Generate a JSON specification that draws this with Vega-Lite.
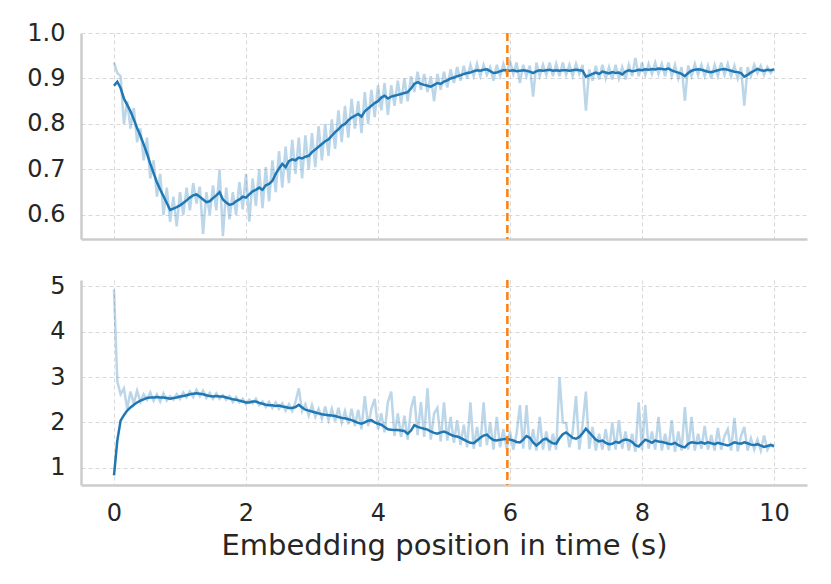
{
  "$schema": "https://vega.github.io/schema/vega-lite/v6.json",
  "background": "white",
  "padding": {"left": 26, "top": 21, "right": 24, "bottom": 10},
  "config": {
    "view": {"stroke": null},
    "font": "DejaVu Sans",
    "concat": {"spacing": 32},
    "axis": {
      "grid": true,
      "gridColor": "#d9d9d9",
      "gridDash": [4, 3],
      "gridWidth": 1,
      "domainColor": "#cccccc",
      "domainWidth": 2.5,
      "ticks": false,
      "labelFont": "DejaVu Sans",
      "labelFontSize": 24,
      "labelColor": "#262626",
      "labelPadding": 16,
      "titleFont": "DejaVu Sans",
      "titleFontSize": 29,
      "titleFontWeight": "normal",
      "titleColor": "#262626",
      "titlePadding": 6
    }
  },
  "datasets": {
    "marker": [{"t": 5.96}],
    "curves": [
      {"t": 0.00, "r1": 0.935, "s1": 0.884, "r2": 4.93, "s2": 0.83},
      {"t": 0.05, "r1": 0.912, "s1": 0.893, "r2": 2.90, "s2": 1.60},
      {"t": 0.10, "r1": 0.905, "s1": 0.879, "r2": 2.62, "s2": 2.04},
      {"t": 0.15, "r1": 0.800, "s1": 0.856, "r2": 2.75, "s2": 2.16},
      {"t": 0.20, "r1": 0.850, "s1": 0.842, "r2": 2.30, "s2": 2.26},
      {"t": 0.25, "r1": 0.790, "s1": 0.828, "r2": 2.68, "s2": 2.33},
      {"t": 0.30, "r1": 0.835, "s1": 0.810, "r2": 2.42, "s2": 2.39},
      {"t": 0.35, "r1": 0.760, "s1": 0.791, "r2": 2.70, "s2": 2.44},
      {"t": 0.40, "r1": 0.790, "s1": 0.774, "r2": 2.45, "s2": 2.48},
      {"t": 0.45, "r1": 0.720, "s1": 0.755, "r2": 2.62, "s2": 2.51},
      {"t": 0.50, "r1": 0.770, "s1": 0.735, "r2": 2.50, "s2": 2.54},
      {"t": 0.55, "r1": 0.680, "s1": 0.712, "r2": 2.66, "s2": 2.55},
      {"t": 0.60, "r1": 0.720, "s1": 0.692, "r2": 2.48, "s2": 2.55},
      {"t": 0.65, "r1": 0.640, "s1": 0.672, "r2": 2.62, "s2": 2.56},
      {"t": 0.70, "r1": 0.690, "s1": 0.656, "r2": 2.46, "s2": 2.55},
      {"t": 0.75, "r1": 0.600, "s1": 0.641, "r2": 2.64, "s2": 2.55},
      {"t": 0.80, "r1": 0.660, "s1": 0.626, "r2": 2.48, "s2": 2.54},
      {"t": 0.85, "r1": 0.585, "s1": 0.611, "r2": 2.58, "s2": 2.52},
      {"t": 0.90, "r1": 0.640, "s1": 0.614, "r2": 2.50, "s2": 2.54},
      {"t": 0.95, "r1": 0.575, "s1": 0.617, "r2": 2.62, "s2": 2.55},
      {"t": 1.00, "r1": 0.650, "s1": 0.621, "r2": 2.52, "s2": 2.57},
      {"t": 1.05, "r1": 0.600, "s1": 0.626, "r2": 2.66, "s2": 2.58},
      {"t": 1.10, "r1": 0.660, "s1": 0.632, "r2": 2.55, "s2": 2.60},
      {"t": 1.15, "r1": 0.610, "s1": 0.638, "r2": 2.68, "s2": 2.62},
      {"t": 1.20, "r1": 0.670, "s1": 0.643, "r2": 2.56, "s2": 2.63},
      {"t": 1.25, "r1": 0.625, "s1": 0.645, "r2": 2.72, "s2": 2.64},
      {"t": 1.30, "r1": 0.662, "s1": 0.640, "r2": 2.58, "s2": 2.63},
      {"t": 1.35, "r1": 0.558, "s1": 0.634, "r2": 2.70, "s2": 2.62},
      {"t": 1.40, "r1": 0.650, "s1": 0.628, "r2": 2.54, "s2": 2.60},
      {"t": 1.45, "r1": 0.600, "s1": 0.630, "r2": 2.65, "s2": 2.58},
      {"t": 1.50, "r1": 0.665, "s1": 0.637, "r2": 2.52, "s2": 2.57},
      {"t": 1.55, "r1": 0.610, "s1": 0.643, "r2": 2.64, "s2": 2.58},
      {"t": 1.60, "r1": 0.700, "s1": 0.650, "r2": 2.52, "s2": 2.57},
      {"t": 1.65, "r1": 0.553, "s1": 0.634, "r2": 2.60, "s2": 2.57},
      {"t": 1.70, "r1": 0.660, "s1": 0.627, "r2": 2.50, "s2": 2.55},
      {"t": 1.75, "r1": 0.590, "s1": 0.622, "r2": 2.58, "s2": 2.53},
      {"t": 1.80, "r1": 0.650, "s1": 0.624, "r2": 2.45, "s2": 2.51},
      {"t": 1.85, "r1": 0.600, "s1": 0.630, "r2": 2.56, "s2": 2.50},
      {"t": 1.90, "r1": 0.672, "s1": 0.634, "r2": 2.44, "s2": 2.48},
      {"t": 1.95, "r1": 0.612, "s1": 0.640, "r2": 2.52, "s2": 2.46},
      {"t": 2.00, "r1": 0.690, "s1": 0.638, "r2": 2.40, "s2": 2.44},
      {"t": 2.05, "r1": 0.585, "s1": 0.645, "r2": 2.50, "s2": 2.44},
      {"t": 2.10, "r1": 0.680, "s1": 0.652, "r2": 2.42, "s2": 2.46},
      {"t": 2.15, "r1": 0.620, "s1": 0.655, "r2": 2.52, "s2": 2.46},
      {"t": 2.20, "r1": 0.700, "s1": 0.660, "r2": 2.38, "s2": 2.43},
      {"t": 2.25, "r1": 0.615, "s1": 0.655, "r2": 2.46, "s2": 2.41},
      {"t": 2.30, "r1": 0.705, "s1": 0.665, "r2": 2.34, "s2": 2.39},
      {"t": 2.35, "r1": 0.630, "s1": 0.668, "r2": 2.45, "s2": 2.38},
      {"t": 2.40, "r1": 0.720, "s1": 0.675, "r2": 2.32, "s2": 2.38},
      {"t": 2.45, "r1": 0.650, "s1": 0.690, "r2": 2.44, "s2": 2.36},
      {"t": 2.50, "r1": 0.740, "s1": 0.702, "r2": 2.30, "s2": 2.37},
      {"t": 2.55, "r1": 0.660, "s1": 0.712, "r2": 2.42, "s2": 2.35},
      {"t": 2.60, "r1": 0.750, "s1": 0.705, "r2": 2.26, "s2": 2.34},
      {"t": 2.65, "r1": 0.670, "s1": 0.718, "r2": 2.40, "s2": 2.32},
      {"t": 2.70, "r1": 0.765, "s1": 0.722, "r2": 2.25, "s2": 2.32},
      {"t": 2.75, "r1": 0.690, "s1": 0.720, "r2": 2.45, "s2": 2.34},
      {"t": 2.80, "r1": 0.770, "s1": 0.726, "r2": 2.75, "s2": 2.39},
      {"t": 2.85, "r1": 0.680, "s1": 0.724, "r2": 2.25, "s2": 2.33},
      {"t": 2.90, "r1": 0.775, "s1": 0.728, "r2": 2.40, "s2": 2.28},
      {"t": 2.95, "r1": 0.700, "s1": 0.730, "r2": 2.15, "s2": 2.26},
      {"t": 3.00, "r1": 0.780, "s1": 0.738, "r2": 2.38, "s2": 2.24},
      {"t": 3.05, "r1": 0.705, "s1": 0.744, "r2": 2.12, "s2": 2.22},
      {"t": 3.10, "r1": 0.795, "s1": 0.750, "r2": 2.30, "s2": 2.20},
      {"t": 3.15, "r1": 0.720, "s1": 0.756, "r2": 2.08, "s2": 2.18},
      {"t": 3.20, "r1": 0.800, "s1": 0.762, "r2": 2.35, "s2": 2.17},
      {"t": 3.25, "r1": 0.730, "s1": 0.766, "r2": 2.05, "s2": 2.16},
      {"t": 3.30, "r1": 0.810, "s1": 0.774, "r2": 2.30, "s2": 2.15},
      {"t": 3.35, "r1": 0.745, "s1": 0.782, "r2": 2.02, "s2": 2.14},
      {"t": 3.40, "r1": 0.830, "s1": 0.788, "r2": 2.32, "s2": 2.12},
      {"t": 3.45, "r1": 0.760, "s1": 0.796, "r2": 2.00, "s2": 2.10},
      {"t": 3.50, "r1": 0.840, "s1": 0.800, "r2": 2.25, "s2": 2.09},
      {"t": 3.55, "r1": 0.770, "s1": 0.808, "r2": 1.96, "s2": 2.07},
      {"t": 3.60, "r1": 0.855, "s1": 0.814, "r2": 2.30, "s2": 2.05},
      {"t": 3.65, "r1": 0.790, "s1": 0.818, "r2": 1.92, "s2": 2.02},
      {"t": 3.70, "r1": 0.850, "s1": 0.822, "r2": 2.28, "s2": 1.99},
      {"t": 3.75, "r1": 0.780, "s1": 0.816, "r2": 1.85, "s2": 1.97},
      {"t": 3.80, "r1": 0.870, "s1": 0.828, "r2": 2.58, "s2": 2.00},
      {"t": 3.85, "r1": 0.800, "s1": 0.834, "r2": 1.92, "s2": 2.04},
      {"t": 3.90, "r1": 0.875, "s1": 0.840, "r2": 2.30, "s2": 2.05},
      {"t": 3.95, "r1": 0.815, "s1": 0.846, "r2": 2.52, "s2": 2.00},
      {"t": 4.00, "r1": 0.885, "s1": 0.850, "r2": 1.85, "s2": 1.97},
      {"t": 4.05, "r1": 0.830, "s1": 0.858, "r2": 2.20, "s2": 1.95},
      {"t": 4.10, "r1": 0.890, "s1": 0.862, "r2": 1.78, "s2": 1.90},
      {"t": 4.15, "r1": 0.820, "s1": 0.856, "r2": 2.45, "s2": 1.85},
      {"t": 4.20, "r1": 0.885, "s1": 0.860, "r2": 2.68, "s2": 1.84},
      {"t": 4.25, "r1": 0.840, "s1": 0.862, "r2": 1.70, "s2": 1.83},
      {"t": 4.30, "r1": 0.895, "s1": 0.864, "r2": 2.20, "s2": 1.83},
      {"t": 4.35, "r1": 0.845, "s1": 0.866, "r2": 1.68, "s2": 1.82},
      {"t": 4.40, "r1": 0.900, "s1": 0.868, "r2": 2.15, "s2": 1.81},
      {"t": 4.45, "r1": 0.850, "s1": 0.870, "r2": 1.62, "s2": 1.75},
      {"t": 4.50, "r1": 0.905, "s1": 0.878, "r2": 2.30, "s2": 1.82},
      {"t": 4.55, "r1": 0.870, "s1": 0.888, "r2": 2.58, "s2": 1.94},
      {"t": 4.60, "r1": 0.915, "s1": 0.892, "r2": 1.72, "s2": 1.90},
      {"t": 4.65, "r1": 0.875, "s1": 0.888, "r2": 2.45, "s2": 1.88},
      {"t": 4.70, "r1": 0.910, "s1": 0.886, "r2": 1.68, "s2": 1.86},
      {"t": 4.75, "r1": 0.870, "s1": 0.884, "r2": 2.75, "s2": 1.84},
      {"t": 4.80, "r1": 0.905, "s1": 0.882, "r2": 1.62, "s2": 1.80},
      {"t": 4.85, "r1": 0.850, "s1": 0.886, "r2": 2.20, "s2": 1.77},
      {"t": 4.90, "r1": 0.910, "s1": 0.890, "r2": 2.32, "s2": 1.75},
      {"t": 4.95, "r1": 0.875, "s1": 0.888, "r2": 1.58, "s2": 1.78},
      {"t": 5.00, "r1": 0.915, "s1": 0.893, "r2": 2.44, "s2": 1.80},
      {"t": 5.05, "r1": 0.880, "s1": 0.896, "r2": 1.60, "s2": 1.77},
      {"t": 5.10, "r1": 0.920, "s1": 0.900, "r2": 2.12, "s2": 1.73},
      {"t": 5.15, "r1": 0.890, "s1": 0.902, "r2": 1.55, "s2": 1.70},
      {"t": 5.20, "r1": 0.925, "s1": 0.905, "r2": 2.05, "s2": 1.69},
      {"t": 5.25, "r1": 0.895, "s1": 0.907, "r2": 1.50, "s2": 1.66},
      {"t": 5.30, "r1": 0.928, "s1": 0.910, "r2": 1.95, "s2": 1.62},
      {"t": 5.35, "r1": 0.900, "s1": 0.912, "r2": 1.45, "s2": 1.58},
      {"t": 5.40, "r1": 0.930, "s1": 0.913, "r2": 2.44, "s2": 1.55},
      {"t": 5.45, "r1": 0.905, "s1": 0.916, "r2": 1.42, "s2": 1.54},
      {"t": 5.50, "r1": 0.932, "s1": 0.918, "r2": 1.90, "s2": 1.60},
      {"t": 5.55, "r1": 0.905, "s1": 0.917, "r2": 1.46, "s2": 1.66},
      {"t": 5.60, "r1": 0.930, "s1": 0.919, "r2": 2.44, "s2": 1.71},
      {"t": 5.65, "r1": 0.908, "s1": 0.920, "r2": 1.50, "s2": 1.73},
      {"t": 5.70, "r1": 0.925, "s1": 0.916, "r2": 2.00, "s2": 1.66},
      {"t": 5.75, "r1": 0.895, "s1": 0.912, "r2": 1.40, "s2": 1.61},
      {"t": 5.80, "r1": 0.930, "s1": 0.913, "r2": 2.12, "s2": 1.60},
      {"t": 5.85, "r1": 0.905, "s1": 0.916, "r2": 1.45, "s2": 1.62},
      {"t": 5.90, "r1": 0.932, "s1": 0.918, "r2": 1.85, "s2": 1.63},
      {"t": 5.95, "r1": 0.910, "s1": 0.918, "r2": 1.42, "s2": 1.64},
      {"t": 6.00, "r1": 0.938, "s1": 0.917, "r2": 1.80, "s2": 1.62},
      {"t": 6.05, "r1": 0.910, "s1": 0.918, "r2": 1.40, "s2": 1.60},
      {"t": 6.10, "r1": 0.935, "s1": 0.916, "r2": 1.75, "s2": 1.57},
      {"t": 6.15, "r1": 0.890, "s1": 0.917, "r2": 2.38, "s2": 1.56},
      {"t": 6.20, "r1": 0.930, "s1": 0.918, "r2": 1.42, "s2": 1.62},
      {"t": 6.25, "r1": 0.905, "s1": 0.917, "r2": 2.38, "s2": 1.70},
      {"t": 6.30, "r1": 0.928, "s1": 0.915, "r2": 1.40, "s2": 1.66},
      {"t": 6.35, "r1": 0.860, "s1": 0.912, "r2": 1.85, "s2": 1.56},
      {"t": 6.40, "r1": 0.935, "s1": 0.916, "r2": 1.38, "s2": 1.49},
      {"t": 6.45, "r1": 0.905, "s1": 0.918, "r2": 2.12, "s2": 1.55},
      {"t": 6.50, "r1": 0.930, "s1": 0.917, "r2": 1.40, "s2": 1.62},
      {"t": 6.55, "r1": 0.908, "s1": 0.918, "r2": 1.80, "s2": 1.64},
      {"t": 6.60, "r1": 0.935, "s1": 0.919, "r2": 1.38, "s2": 1.58},
      {"t": 6.65, "r1": 0.905, "s1": 0.917, "r2": 1.75, "s2": 1.54},
      {"t": 6.70, "r1": 0.932, "s1": 0.918, "r2": 1.40, "s2": 1.53},
      {"t": 6.75, "r1": 0.905, "s1": 0.917, "r2": 2.99, "s2": 1.65},
      {"t": 6.80, "r1": 0.935, "s1": 0.918, "r2": 2.00, "s2": 1.74},
      {"t": 6.85, "r1": 0.908, "s1": 0.918, "r2": 1.98, "s2": 1.78},
      {"t": 6.90, "r1": 0.930, "s1": 0.917, "r2": 1.45, "s2": 1.72},
      {"t": 6.95, "r1": 0.905, "s1": 0.918, "r2": 1.80, "s2": 1.66},
      {"t": 7.00, "r1": 0.932, "s1": 0.919, "r2": 2.58, "s2": 1.64},
      {"t": 7.05, "r1": 0.910, "s1": 0.918, "r2": 1.40, "s2": 1.68},
      {"t": 7.10, "r1": 0.930, "s1": 0.917, "r2": 1.95, "s2": 1.76},
      {"t": 7.15, "r1": 0.829, "s1": 0.904, "r2": 2.68, "s2": 1.86},
      {"t": 7.20, "r1": 0.920, "s1": 0.907, "r2": 1.42, "s2": 1.78},
      {"t": 7.25, "r1": 0.895, "s1": 0.910, "r2": 1.90, "s2": 1.70},
      {"t": 7.30, "r1": 0.928, "s1": 0.913, "r2": 1.38, "s2": 1.62},
      {"t": 7.35, "r1": 0.898, "s1": 0.910, "r2": 1.75, "s2": 1.58},
      {"t": 7.40, "r1": 0.930, "s1": 0.915, "r2": 1.40, "s2": 1.60},
      {"t": 7.45, "r1": 0.900, "s1": 0.913, "r2": 1.85, "s2": 1.55},
      {"t": 7.50, "r1": 0.925, "s1": 0.911, "r2": 1.38, "s2": 1.52},
      {"t": 7.55, "r1": 0.898, "s1": 0.914, "r2": 2.00, "s2": 1.53},
      {"t": 7.60, "r1": 0.930, "s1": 0.912, "r2": 1.40, "s2": 1.57},
      {"t": 7.65, "r1": 0.900, "s1": 0.913, "r2": 2.05, "s2": 1.55},
      {"t": 7.70, "r1": 0.925, "s1": 0.909, "r2": 1.42, "s2": 1.60},
      {"t": 7.75, "r1": 0.898, "s1": 0.915, "r2": 1.80, "s2": 1.62},
      {"t": 7.80, "r1": 0.930, "s1": 0.918, "r2": 1.38, "s2": 1.61},
      {"t": 7.85, "r1": 0.905, "s1": 0.916, "r2": 1.75, "s2": 1.57},
      {"t": 7.90, "r1": 0.945, "s1": 0.917, "r2": 1.35, "s2": 1.50},
      {"t": 7.95, "r1": 0.905, "s1": 0.919, "r2": 2.44, "s2": 1.47},
      {"t": 8.00, "r1": 0.935, "s1": 0.918, "r2": 1.40, "s2": 1.55},
      {"t": 8.05, "r1": 0.908, "s1": 0.920, "r2": 2.38, "s2": 1.62},
      {"t": 8.10, "r1": 0.932, "s1": 0.919, "r2": 1.42, "s2": 1.59},
      {"t": 8.15, "r1": 0.910, "s1": 0.921, "r2": 1.80, "s2": 1.55},
      {"t": 8.20, "r1": 0.935, "s1": 0.920, "r2": 1.40, "s2": 1.60},
      {"t": 8.25, "r1": 0.910, "s1": 0.922, "r2": 2.12, "s2": 1.58},
      {"t": 8.30, "r1": 0.932, "s1": 0.921, "r2": 1.38, "s2": 1.57},
      {"t": 8.35, "r1": 0.905, "s1": 0.920, "r2": 1.75, "s2": 1.55},
      {"t": 8.40, "r1": 0.935, "s1": 0.922, "r2": 1.40, "s2": 1.53},
      {"t": 8.45, "r1": 0.905, "s1": 0.918, "r2": 2.05, "s2": 1.52},
      {"t": 8.50, "r1": 0.930, "s1": 0.915, "r2": 1.35, "s2": 1.55},
      {"t": 8.55, "r1": 0.900, "s1": 0.913, "r2": 1.80, "s2": 1.50},
      {"t": 8.60, "r1": 0.925, "s1": 0.910, "r2": 1.38, "s2": 1.47},
      {"t": 8.65, "r1": 0.851, "s1": 0.905, "r2": 2.34, "s2": 1.45},
      {"t": 8.70, "r1": 0.928, "s1": 0.912, "r2": 1.40, "s2": 1.53},
      {"t": 8.75, "r1": 0.905, "s1": 0.917, "r2": 2.12, "s2": 1.56},
      {"t": 8.80, "r1": 0.932, "s1": 0.919, "r2": 1.38, "s2": 1.55},
      {"t": 8.85, "r1": 0.908, "s1": 0.920, "r2": 1.75, "s2": 1.54},
      {"t": 8.90, "r1": 0.930, "s1": 0.919, "r2": 1.42, "s2": 1.56},
      {"t": 8.95, "r1": 0.905, "s1": 0.917, "r2": 1.92, "s2": 1.53},
      {"t": 9.00, "r1": 0.928, "s1": 0.915, "r2": 1.40, "s2": 1.56},
      {"t": 9.05, "r1": 0.900, "s1": 0.914, "r2": 1.72, "s2": 1.54},
      {"t": 9.10, "r1": 0.930, "s1": 0.916, "r2": 1.38, "s2": 1.52},
      {"t": 9.15, "r1": 0.905, "s1": 0.918, "r2": 1.88, "s2": 1.55},
      {"t": 9.20, "r1": 0.935, "s1": 0.920, "r2": 1.40, "s2": 1.53},
      {"t": 9.25, "r1": 0.908, "s1": 0.921, "r2": 1.70, "s2": 1.51},
      {"t": 9.30, "r1": 0.932, "s1": 0.919, "r2": 1.85, "s2": 1.49},
      {"t": 9.35, "r1": 0.905, "s1": 0.917, "r2": 1.38, "s2": 1.52},
      {"t": 9.40, "r1": 0.928, "s1": 0.915, "r2": 2.10, "s2": 1.56},
      {"t": 9.45, "r1": 0.900, "s1": 0.914, "r2": 1.36, "s2": 1.54},
      {"t": 9.50, "r1": 0.925, "s1": 0.912, "r2": 1.70, "s2": 1.53},
      {"t": 9.55, "r1": 0.840, "s1": 0.904, "r2": 1.90, "s2": 1.56},
      {"t": 9.60, "r1": 0.925, "s1": 0.908, "r2": 1.38, "s2": 1.54},
      {"t": 9.65, "r1": 0.905, "s1": 0.913, "r2": 1.65, "s2": 1.51},
      {"t": 9.70, "r1": 0.930, "s1": 0.917, "r2": 1.40, "s2": 1.50},
      {"t": 9.75, "r1": 0.912, "s1": 0.921, "r2": 1.62, "s2": 1.52},
      {"t": 9.80, "r1": 0.928, "s1": 0.918, "r2": 1.38, "s2": 1.49},
      {"t": 9.85, "r1": 0.908, "s1": 0.917, "r2": 1.71, "s2": 1.46},
      {"t": 9.90, "r1": 0.925, "s1": 0.919, "r2": 1.40, "s2": 1.48},
      {"t": 9.95, "r1": 0.912, "s1": 0.918, "r2": 1.52, "s2": 1.50},
      {"t": 10.00, "r1": 0.922, "s1": 0.920, "r2": 1.45, "s2": 1.48}
    ]
  },
  "resolve": {"scale": {"x": "independent", "y": "independent"}},
  "vconcat": [
    {
      "width": 726,
      "height": 206,
      "layer": [
        {
          "data": {"name": "curves"},
          "mark": {"type": "line", "color": "#1f77b4", "opacity": 0.3, "strokeWidth": 2.5},
          "encoding": {
            "x": {"field": "t", "type": "quantitative", "scale": {"domain": [-0.5, 10.5], "nice": false, "zero": false}, "axis": {"values": [0, 2, 4, 6, 8, 10], "labels": false, "title": null}},
            "y": {"field": "r1", "type": "quantitative", "scale": {"domain": [0.547, 1.0], "nice": false, "zero": false}, "axis": {"values": [0.6, 0.7, 0.8, 0.9, 1.0], "format": ".1f", "title": null}}
          }
        },
        {
          "data": {"name": "curves"},
          "mark": {"type": "line", "color": "#1f77b4", "strokeWidth": 2.5},
          "encoding": {
            "x": {"field": "t", "type": "quantitative"},
            "y": {"field": "s1", "type": "quantitative"}
          }
        },
        {
          "data": {"name": "marker"},
          "mark": {"type": "rule", "color": "#ff7f0e", "strokeWidth": 2.5, "strokeDash": [8, 4]},
          "encoding": {"x": {"field": "t", "type": "quantitative"}}
        }
      ]
    },
    {
      "width": 726,
      "height": 205,
      "layer": [
        {
          "data": {"name": "curves"},
          "mark": {"type": "line", "color": "#1f77b4", "opacity": 0.3, "strokeWidth": 2.5},
          "encoding": {
            "x": {"field": "t", "type": "quantitative", "scale": {"domain": [-0.5, 10.5], "nice": false, "zero": false}, "axis": {"values": [0, 2, 4, 6, 8, 10], "format": "d", "title": "Embedding position in time (s)"}},
            "y": {"field": "r2", "type": "quantitative", "scale": {"domain": [0.62, 5.14], "nice": false, "zero": false}, "axis": {"values": [1, 2, 3, 4, 5], "format": "d", "title": null}}
          }
        },
        {
          "data": {"name": "curves"},
          "mark": {"type": "line", "color": "#1f77b4", "strokeWidth": 2.5},
          "encoding": {
            "x": {"field": "t", "type": "quantitative"},
            "y": {"field": "s2", "type": "quantitative"}
          }
        },
        {
          "data": {"name": "marker"},
          "mark": {"type": "rule", "color": "#ff7f0e", "strokeWidth": 2.5, "strokeDash": [8, 4]},
          "encoding": {"x": {"field": "t", "type": "quantitative"}}
        }
      ]
    }
  ]
}
